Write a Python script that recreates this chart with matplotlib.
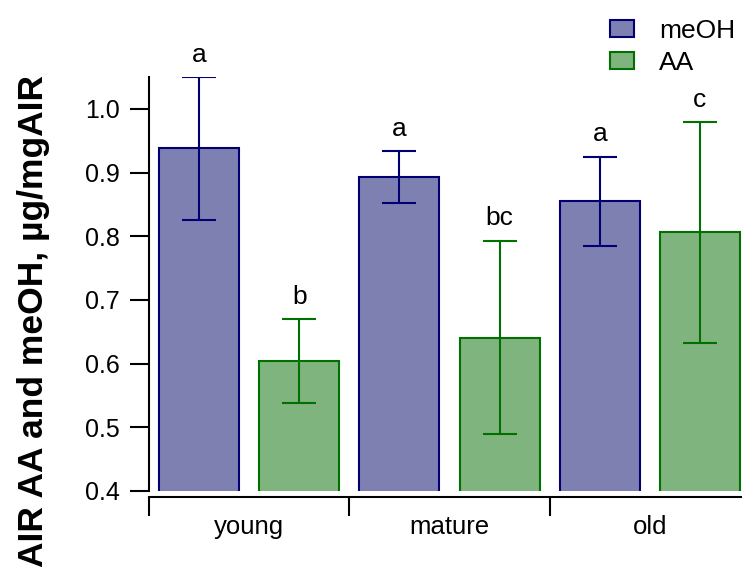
import numpy as np
import matplotlib.pyplot as plt
from matplotlib.patches import Patch

plt.rcParams['font.family'] = ['Liberation Sans', 'DejaVu Sans']

# values
groups = ["young", "mature", "old"]
meoh_mean = [0.938, 0.893, 0.855]
meoh_err = [0.112, 0.041, 0.070]
aa_mean = [0.604, 0.641, 0.806]
aa_err = [0.066, 0.152, 0.173]
meoh_letters = ["a", "a", "a"]
aa_letters = ["b", "bc", "c"]

meoh_fill, meoh_edge = "#7f80b2", "#000073"
aa_fill, aa_edge = "#80b47f", "#007000"

fig = plt.figure(figsize=(7.42, 5.71), dpi=100)
ax = fig.add_axes([149/742, 80/571, 593/742, 414/571])

x = np.arange(len(groups))
w = 0.4
ax.bar(x - 0.25, meoh_mean, w, color=meoh_fill, edgecolor=meoh_edge, linewidth=1.5,
       yerr=meoh_err, error_kw=dict(ecolor=meoh_edge, elinewidth=1.5, capsize=12, capthick=1.5))
ax.bar(x + 0.25, aa_mean, w, color=aa_fill, edgecolor=aa_edge, linewidth=1.5,
       yerr=aa_err, error_kw=dict(ecolor=aa_edge, elinewidth=1.5, capsize=12, capthick=1.5))

# significance letters above the error bars
for xi, m, e, lab in zip(x - 0.25, meoh_mean, meoh_err, meoh_letters):
    ax.annotate(lab, (xi, m + e), xytext=(0, 11), textcoords="offset points",
                ha="center", va="baseline", fontsize=19, annotation_clip=False)
for xi, m, e, lab in zip(x + 0.25, aa_mean, aa_err, aa_letters):
    ax.annotate(lab, (xi, m + e), xytext=(0, 11), textcoords="offset points",
                ha="center", va="baseline", fontsize=19, annotation_clip=False)

yt = np.arange(0.4, 1.01, 0.1)
ax.set_yticks(yt)
ax.set_yticklabels([f"{v:.1f}" for v in yt])
ax.tick_params(axis="y", direction="out", length=14, width=1.5, labelsize=18, pad=7)

ax.set_xticks([-0.5, 0.5, 1.5, 2.5])
ax.set_xticklabels([])
ax.set_xticks(x, minor=True)
ax.set_xticklabels(groups, minor=True)
ax.tick_params(axis="x", which="major", direction="out", length=14, width=1.5)
ax.tick_params(axis="x", which="minor", length=0, labelsize=18.5, pad=13)

ax.set_xlim(-0.5, 2.46)
ax.set_ylim(0.4, 1.05)

for s in ["top", "right"]:
    ax.spines[s].set_visible(False)
ax.spines["left"].set_linewidth(1.5)
ax.spines["bottom"].set_linewidth(1.5)
ax.spines["bottom"].set_position(("outward", 4))

fig.text(34/742, 1 - 75/571, "AIR AA and meOH, µg/mgAIR", rotation=90,
         ha="center", va="top", fontsize=25.5, fontweight="bold")

handles = [Patch(facecolor=meoh_fill, edgecolor=meoh_edge, linewidth=1.5, label="meOH"),
           Patch(facecolor=aa_fill, edgecolor=aa_edge, linewidth=1.5, label="AA")]
fig.legend(handles=handles, loc="upper left", bbox_to_anchor=(586/742, 1 + 5/571),
           frameon=False, fontsize=19, handlelength=0.92, handleheight=0.62,
           handletextpad=0.95, labelspacing=0.3)

fig.savefig("out.png", dpi=100)
